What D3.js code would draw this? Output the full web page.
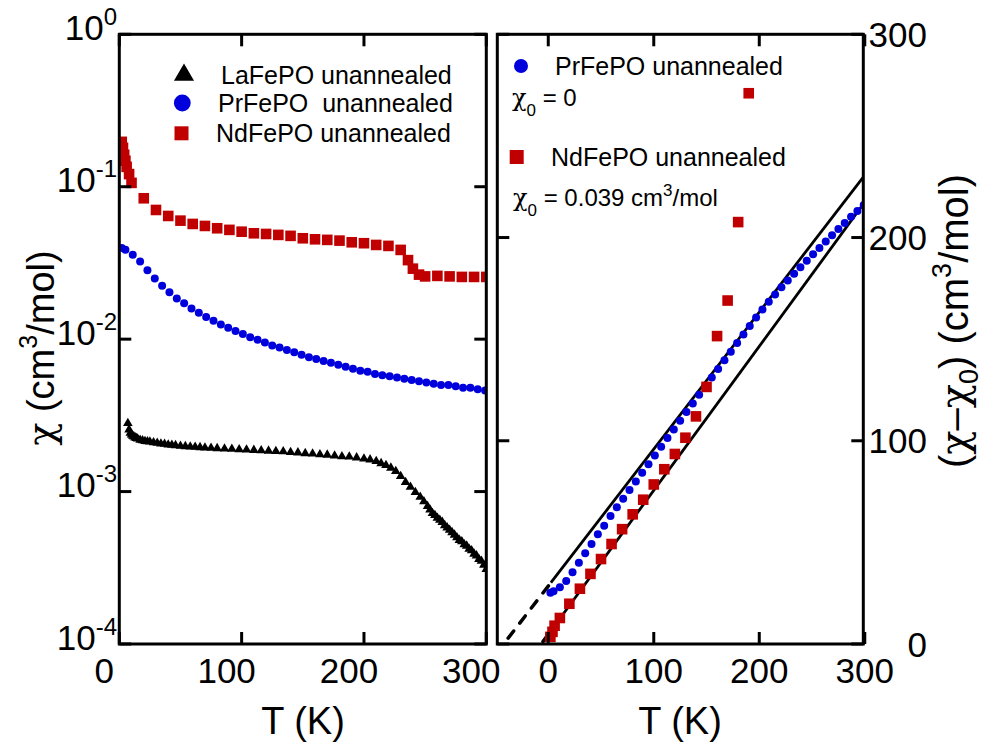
<!DOCTYPE html>
<meta charset="utf-8">
<style>
body { margin: 0; background: #fff; }
svg { font-family: "Liberation Sans", Arial, sans-serif; background: #fff; }
.frame { fill: none; stroke: #000; stroke-width: 3px; }
.tick { stroke: #000; stroke-width: 3px; }
.ticklabel { font-size: 35px; fill: #000; }
.title { font-size: 38px; fill: #000; }
.legend { font-size: 25px; fill: #000; white-space: pre; }
.note { font-size: 24px; fill: #000; }
.chi { font-family: "DejaVu Serif", serif; }
.fit { fill: none; stroke: #000; stroke-width: 2.8px; }
.fit-dash { fill: none; stroke: #000; stroke-width: 3.5px; stroke-dasharray: 9,10; stroke-linecap: round; }
</style>
<body>
<div id="chart"></div>
<script src="https://cdn.jsdelivr.net/npm/d3@7/dist/d3.min.js"></script>
<script>
// ---- left panel: chi(T), log scale ----
var laT = [7, 8, 9, 10, 11, 12, 13, 14, 15, 17, 19, 21, 23, 25, 28, 31, 34, 37, 40, 43, 46, 50, 54, 58, 62, 66, 70, 75, 80, 86, 92, 98,
    104, 110, 116, 122, 128, 134, 140, 146, 152, 158, 164, 170, 176, 182, 188, 194, 200, 205, 210, 214, 218, 222, 226, 230, 234, 238,
    242, 246, 249, 252, 254, 256, 258, 260, 262, 264, 266, 268, 270, 272, 274, 276, 278, 280, 282, 284, 286, 288, 290, 292, 294, 296, 298, 300];
var laChi = [0.00281, 0.00255, 0.00242, 0.00236, 0.00232, 0.00229, 0.00226, 0.00224, 0.00222, 0.00218, 0.00216, 0.00214, 0.00213, 0.00212,
    0.00210, 0.00208, 0.00206, 0.00205, 0.00203, 0.00202, 0.00201, 0.00199, 0.00198, 0.00197, 0.00196, 0.00195, 0.00194, 0.00193, 0.00192,
    0.00191, 0.00190, 0.00189, 0.00188, 0.00187, 0.00186, 0.00185, 0.00184, 0.00183, 0.00181, 0.00180, 0.00178, 0.00177, 0.00175, 0.00174,
    0.00172, 0.00170, 0.00169, 0.00167, 0.00164, 0.00162, 0.00158, 0.00153, 0.00149, 0.00143, 0.00136, 0.00126, 0.00115, 0.00107, 0.00099,
    0.00092, 0.00086, 0.00080, 0.00076, 0.00072, 0.00070, 0.00067, 0.00065, 0.00063, 0.00060, 0.00058, 0.00056, 0.00054, 0.00052, 0.00050,
    0.00048, 0.00047, 0.00045, 0.00044, 0.00042, 0.00041, 0.00039, 0.00038, 0.00036, 0.00035, 0.00033, 0.00031];

var prT = [2, 5, 11, 17, 23, 29, 35, 41, 47, 53, 59, 65, 71, 77, 83, 89, 95, 101, 107, 113, 119, 125, 131, 137, 143, 149, 155, 161,
    167, 173, 179, 185, 191, 197, 203, 209, 215, 221, 227, 233, 239, 245, 251, 257, 263, 269, 275, 281, 287, 293, 299];
var prChi = [0.0397, 0.0386, 0.0358, 0.0323, 0.0283, 0.0250, 0.0224, 0.0203, 0.0185, 0.0172, 0.0159, 0.0149, 0.0140, 0.0132, 0.0125,
    0.0119, 0.0113, 0.0108, 0.0103, 0.0099, 0.0095, 0.0091, 0.0088, 0.0085, 0.0082, 0.0079, 0.0076, 0.0074, 0.0072, 0.0070, 0.0068,
    0.0066, 0.0064, 0.0062, 0.0061, 0.0059, 0.0058, 0.0057, 0.0056, 0.0055, 0.0054, 0.0053, 0.0052, 0.0051, 0.0050, 0.0050, 0.0049,
    0.0048, 0.0048, 0.0047, 0.0046];

var ndT = [2, 3, 4, 5, 6, 8, 10, 20, 30, 40, 50, 60, 70, 80, 90, 100, 110, 120, 130, 140, 150, 160, 170, 180, 190, 200,
    210, 220, 230, 236, 240, 245, 250, 260, 270, 280, 290, 300];
var ndChi = [0.197, 0.180, 0.162, 0.148, 0.135, 0.121, 0.106, 0.0840, 0.0704, 0.0643, 0.0599, 0.0570, 0.0553, 0.0534, 0.0521, 0.0507,
    0.0495, 0.0490, 0.0483, 0.0476, 0.0459, 0.0452, 0.0448, 0.0443, 0.0432, 0.0426, 0.0415, 0.0409, 0.0385, 0.0330, 0.0290, 0.0265,
    0.0258, 0.0260, 0.0258, 0.0256, 0.0256, 0.0256];

// ---- right panel: 1/(chi - chi0) ----
var prInvT = prT;
var prInv = [25.2, 25.9, 27.9, 31.0, 35.3, 40.0, 44.6, 49.2, 54.0, 58.2, 63.0, 67.3, 71.5, 75.8, 80.0, 84.3, 88.5, 92.8, 97.0, 101.3,
    105.5, 109.8, 114.1, 118.3, 122.6, 126.8, 131.1, 135.3, 139.6, 143.8, 148.1, 152.3, 156.5, 160.6, 164.6, 168.4, 172.0, 175.5, 178.9,
    182.2, 185.4, 188.6, 191.8, 194.9, 198.0, 201.1, 204.2, 207.2, 210.2, 213.1, 216.0];
var ndInvT = [2, 4, 6, 11, 20, 30, 40, 50, 60, 70, 80, 90, 100, 110, 120, 130, 140, 150, 160, 170, 180, 190];
var ndInv = [3.5, 6, 9, 12.8, 19.8, 27.2, 34.5, 41.8, 49.2, 56.5, 63.8, 71, 78.5, 86, 93.5, 101.5, 112, 126.5, 151.5, 169, 207.6, 271];

// straight fits: intercept, slope, dashed range, end of solid part
var fitIntercept = [28.5, 4.7];
var fitSlope = [0.674, 0.709];
var fitDash = [[-38, 2.5], [-5, 1]];
var fitSolidEnd = [298.6, 298.6];

var xTicks = [0, 100, 200, 300];
var logTicks = [1e-4, 1e-3, 1e-2, 1e-1, 1];
var logExp = ["-4", "-3", "-2", "-1", "0"];
var invTicks = [0, 100, 200, 300];

var RED = "#c00000", BLUE = "#0000dd";

var svg = d3.select("#chart").append("svg").attr("width", 998).attr("height", 744);

var yTop = 34.3, yBot = 644;
var xL = d3.scaleLinear().domain([0, 300]).range([119.3, 486.3]);
var yL = d3.scaleLog().domain([1e-4, 1]).range([yBot, yTop]);
var xR = d3.scaleLinear().domain([-48.3, 298.6]).range([497.3, 863.3]);
var yR = d3.scaleLinear().domain([0, 300]).range([yBot, yTop]);

svg.append("clipPath").attr("id", "clipL").append("rect")
    .attr("x", 119.3).attr("y", yTop).attr("width", 367).attr("height", yBot - yTop);
svg.append("clipPath").attr("id", "clipR").append("rect")
    .attr("x", 497.3).attr("y", yTop).attr("width", 366).attr("height", yBot - yTop);

var gL = svg.append("g").attr("clip-path", "url(#clipL)");
var gR = svg.append("g").attr("clip-path", "url(#clipR)");

function zip(a, b) { return a.map(function(d, i) { return [d, b[i]]; }); }

// left data
gL.selectAll(".la").data(zip(laT, laChi)).enter().append("path")
    .attr("d", d3.symbol().type(d3.symbolTriangle).size(40))
    .attr("transform", function(d) { return "translate(" + xL(d[0]) + "," + yL(d[1]) + ")"; })
    .attr("fill", "#000");
gL.selectAll(".pr").data(zip(prT, prChi)).enter().append("circle")
    .attr("cx", function(d) { return xL(d[0]); })
    .attr("cy", function(d) { return yL(d[1]); })
    .attr("r", 4).attr("fill", BLUE);
gL.selectAll(".nd").data(zip(ndT, ndChi)).enter().append("rect")
    .attr("x", function(d) { return xL(d[0]) - 5.3; })
    .attr("y", function(d) { return yL(d[1]) - 5.3; })
    .attr("width", 10.6).attr("height", 10.6).attr("fill", RED);

// right fits
var line = d3.line().x(function(d) { return xR(d[0]); }).y(function(d) { return yR(d[1]); });
fitIntercept.forEach(function(b, i) {
    var m = fitSlope[i];
    var f = function(t) { return [t, b + m * t]; };
    gR.append("path").attr("class", "fit-dash").attr("d", line([f(fitDash[i][0]), f(fitDash[i][1])]));
    gR.append("path").attr("class", "fit").attr("d", line([f(fitDash[i][1]), f(fitSolidEnd[i])]));
});

// right data
gR.selectAll(".pr").data(zip(prInvT, prInv)).enter().append("circle")
    .attr("cx", function(d) { return xR(d[0]); })
    .attr("cy", function(d) { return yR(d[1]); })
    .attr("r", 4).attr("fill", BLUE);
gR.selectAll(".nd").data(zip(ndInvT, ndInv)).enter().append("rect")
    .attr("x", function(d) { return xR(d[0]) - 5.3; })
    .attr("y", function(d) { return yR(d[1]) - 5.3; })
    .attr("width", 10.6).attr("height", 10.6).attr("fill", RED);

// frames
svg.append("rect").attr("class", "frame").attr("x", 119.3).attr("y", yTop).attr("width", 367).attr("height", yBot - yTop);
svg.append("rect").attr("class", "frame").attr("x", 497.3).attr("y", yTop).attr("width", 366).attr("height", yBot - yTop);

// ticks (inward, all sides)
var TL = 12;
xTicks.forEach(function(t) {
    [xL, xR].forEach(function(sc) {
        var x = sc(t);
        svg.append("line").attr("class", "tick").attr("x1", x).attr("x2", x).attr("y1", yBot).attr("y2", yBot - TL);
        svg.append("line").attr("class", "tick").attr("x1", x).attr("x2", x).attr("y1", yTop).attr("y2", yTop + TL);
    });
});
logTicks.forEach(function(v) {
    var y = yL(v);
    svg.append("line").attr("class", "tick").attr("x1", 119.3).attr("x2", 119.3 + TL).attr("y1", y).attr("y2", y);
    svg.append("line").attr("class", "tick").attr("x1", 486.3).attr("x2", 486.3 - TL).attr("y1", y).attr("y2", y);
});
invTicks.forEach(function(v) {
    var y = yR(v);
    svg.append("line").attr("class", "tick").attr("x1", 497.3).attr("x2", 497.3 + TL).attr("y1", y).attr("y2", y);
    svg.append("line").attr("class", "tick").attr("x1", 863.3).attr("x2", 863.3 - TL).attr("y1", y).attr("y2", y);
});

// tick labels
xTicks.forEach(function(t) {
    svg.append("text").attr("class", "ticklabel").attr("x", xL(t) - 15).attr("y", 683)
        .attr("text-anchor", "middle").text(t);
    svg.append("text").attr("class", "ticklabel").attr("x", xR(t)).attr("y", 683)
        .attr("text-anchor", "middle").text(t);
});
logTicks.forEach(function(v, i) {
    var tx = svg.append("text").attr("class", "ticklabel").attr("x", 117).attr("y", yL(v) + 5.5)
        .attr("text-anchor", "end");
    tx.append("tspan").text("10");
    tx.append("tspan").attr("dy", -15).style("font-size", "24px").text(logExp[i]);
});
invTicks.forEach(function(v) {
    svg.append("text").attr("class", "ticklabel").attr("x", 927).attr("y", yR(v) + 12.5)
        .attr("text-anchor", "end").text(v);
});

// axis titles
svg.append("text").attr("class", "title").attr("x", 303).attr("y", 734).attr("text-anchor", "middle").text("T (K)");
svg.append("text").attr("class", "title").attr("x", 680).attr("y", 734).attr("text-anchor", "middle").text("T (K)");

var yt = svg.append("text").attr("class", "title").attr("text-anchor", "middle")
    .attr("transform", "translate(54,348) rotate(-90)");
yt.append("tspan").attr("class", "chi").text("\u03c7");
yt.append("tspan").text(" (cm");
yt.append("tspan").attr("dy", -17).style("font-size", "25px").text("3");
yt.append("tspan").attr("dy", 17).text("/mol)");

var yt2 = svg.append("text").attr("class", "title").attr("text-anchor", "middle").style("font-size", "40px")
    .attr("transform", "translate(968,321) rotate(-90)");
yt2.append("tspan").text("(");
yt2.append("tspan").attr("class", "chi").text("\u03c7");
yt2.append("tspan").text("\u2013");
yt2.append("tspan").attr("class", "chi").text("\u03c7");
yt2.append("tspan").attr("dy", 10).style("font-size", "27px").text("0");
yt2.append("tspan").attr("dy", -10).text(") (cm");
yt2.append("tspan").attr("dy", -17).style("font-size", "27px").text("3");
yt2.append("tspan").attr("dy", 17).text("/mol)");

// left legend
var legNames = ["LaFePO unannealed", "PrFePO  unannealed", "NdFePO unannealed"];
var legY = [75, 103, 133.3];
var legTextX = [221, 218, 216];
svg.append("path").attr("d", d3.symbol().type(d3.symbolTriangle).size(175)())
    .attr("transform", "translate(184," + legY[0] + ")").attr("fill", "#000");
svg.append("circle").attr("cx", 182.3).attr("cy", legY[1]).attr("r", 8.4).attr("fill", BLUE);
svg.append("rect").attr("x", 174.5).attr("y", legY[2] - 7).attr("width", 14).attr("height", 14).attr("fill", RED);
legNames.forEach(function(n, i) {
    svg.append("text").attr("class", "legend").attr("x", legTextX[i]).attr("y", legY[i] + 8.5).text(n);
});

// right legend
svg.append("circle").attr("cx", 521).attr("cy", 66).attr("r", 7).attr("fill", BLUE);
svg.append("text").attr("class", "legend").attr("x", 555).attr("y", 75).text("PrFePO unannealed");
svg.append("rect").attr("x", 509.7).attr("y", 150).attr("width", 14).attr("height", 14).attr("fill", RED);
svg.append("text").attr("class", "legend").attr("x", 551).attr("y", 166).text("NdFePO unannealed");

var n1 = svg.append("text").attr("class", "note").attr("x", 512).attr("y", 106);
n1.append("tspan").attr("class", "chi").text("\u03c7");
n1.append("tspan").attr("dy", 10).style("font-size", "17px").text("0");
n1.append("tspan").attr("dy", -10).text(" = 0");

var n2 = svg.append("text").attr("class", "note").attr("x", 513).attr("y", 206);
n2.append("tspan").attr("class", "chi").text("\u03c7");
n2.append("tspan").attr("dy", 10).style("font-size", "17px").text("0");
n2.append("tspan").attr("dy", -10).text(" = 0.039 cm");
n2.append("tspan").attr("dy", -10).style("font-size", "17px").text("3");
n2.append("tspan").attr("dy", 10).text("/mol");
</script>
</body>
